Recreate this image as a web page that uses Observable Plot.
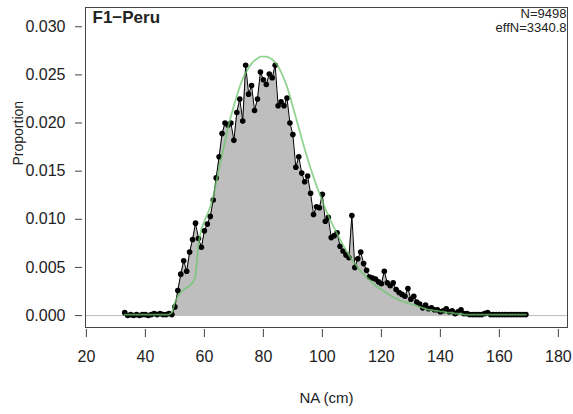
<!DOCTYPE html>
<html>
<head>
<meta charset="utf-8">
<script src="https://cdn.jsdelivr.net/npm/d3@7"></script>
<script src="https://cdn.jsdelivr.net/npm/@observablehq/plot@0.6"></script>
<style>
  html, body { margin: 0; padding: 0; background: #fff; }
  #chart { width: 573px; height: 414px; }
</style>
</head>
<body>
<div id="chart"></div>
<script>
// Length bins (cm)
const lengthCm = [33,34,35,36,37,38,39,40,41,42,43,44,45,46,47,48,49,50,51,52,53,54,55,56,57,58,59,60,61,62,63,64,65,66,67,68,69,70,71,72,73,74,75,76,77,78,79,80,81,82,83,84,85,86,87,88,89,90,91,92,93,94,95,96,97,98,99,100,101,102,103,104,105,106,107,108,109,110,111,112,113,114,115,116,117,118,119,120,121,122,123,124,125,126,127,128,129,130,131,132,133,134,135,136,137,138,139,140,141,142,143,144,145,146,147,148,149,150,151,152,153,154,155,156,157,158,159,160,161,162,163,164,165,166,167,168,169];

// Observed proportions
const observed = [
  .0003,.0000,.0001,.0000,.0001,.0000,.0001,.0001,.0000,.0001,.0002,.0001,.0002,.0001,.0001,.0002,.0001, // 33-49
  .0009,.0026,.0043,.0057,.0046,.0066,.0079,.0096,.0080,.0071, // 50-59
  .0088,.0095,.0103,.0120,.0143,.0165,.0189,.0200,.0198,.0200, // 60-69
  .0182,.0211,.0225,.0202,.0260,.0230,.0239,.0213,.0225,.0253, // 70-79
  .0245,.0240,.0251,.0247,.0260,.0218,.0222,.0218,.0226,.0200, // 80-89
  .0188,.0154,.0165,.0148,.0139,.0145,.0127,.0105,.0113,.0112, // 90-99
  .0126,.0098,.0102,.0081,.0083,.0086,.0072,.0067,.0063,.0060, // 100-109
  .0104,.0050,.0059,.0066,.0054,.0047,.0040,.0039,.0038,.0035, // 110-119
  .0033,.0046,.0034,.0031,.0034,.0027,.0024,.0022,.0020,.0028, // 120-129
  .0017,.0020,.0014,.0012,.0008,.0011,.0007,.0008,.0006,.0006, // 130-139
  .0004,.0005,.0007,.0004,.0005,.0002,.0004,.0006,.0002,.0002, // 140-149
  .0001,.0001,.0001,.0001,.0001,.0002,.0003,.0001,.0001,.0001, // 150-159
  .0001,.0001,.0001,.0001,.0001,.0001,.0001,.0001,.0001,.0001  // 160-169
];

// Expected (model fit) proportions
const expected = [
  .0001,.0001,.0001,.0001,.0001,.0001,.0001,.0001,.0001,.0001,.0001,.0001,.0001,.0001,.0001,.0001,.0003, // 33-49
  .0014,.0020,.0024,.0027,.0029,.0031,.0034,.0040,.0075,.0090, // 50-59
  .0098,.0105,.0113,.0124,.0138,.0153,.0167,.0181,.0195,.0207, // 60-69
  .0218,.0228,.0238,.0246,.0252,.0257,.0262,.0265,.0267,.0269, // 70-79
  .0269,.0269,.0268,.0266,.0263,.0259,.0253,.0246,.0238,.0228, // 80-89
  .0217,.0206,.0195,.0184,.0173,.0163,.0153,.0144,.0135,.0127, // 90-99
  .0119,.0111,.0104,.0097,.0091,.0085,.0079,.0073,.0068,.0063, // 100-109
  .0058,.0054,.0050,.0046,.0043,.0040,.0037,.0034,.0031,.0029, // 110-119
  .0027,.0025,.0023,.0021,.0019,.0018,.0016,.0015,.0014,.0013, // 120-129
  .0012,.0011,.0010,.0009,.0008,.0007,.0006,.0006,.0005,.0005, // 130-139
  .0004,.0004,.0003,.0003,.0003,.0002,.0002,.0002,.0001,.0001, // 140-149
  .0001,.0001,.0001,.0001,.0001,.0001,.0001,.0001,.0001,.0001, // 150-159
  .0001,.0001,.0001,.0001,.0001,.0001,.0001,.0001,.0001,.0001  // 160-169
];

const xTicks = [20,40,60,80,100,120,140,160,180];
const yTicks = [0,0.005,0.010,0.015,0.020,0.025,0.030];
const titleText = "F1\u2212Peru";
const nText = "N=9498";
const effNText = "effN=3340.8";
const xLabel = "NA (cm)";
const yLabel = "Proportion";

const obsData = lengthCm.map((x, i) => ({x, y: observed[i]}));
const expData = lengthCm.map((x, i) => ({x, y: expected[i]}));

const font = "'Liberation Sans', Arial, Helvetica, sans-serif";

const chart = Plot.plot({
  width: 573,
  height: 414,
  marginLeft: 85,
  marginRight: 6,
  marginTop: 7,
  marginBottom: 87,
  style: {fontFamily: font, background: "#fff", color: "#222"},
  x: {domain: [19.7, 183.1]},
  y: {domain: [-0.00124, 0.0320]},
  marks: [
    Plot.ruleY([0], {stroke: "#bdbdbd", strokeWidth: 1}),
    Plot.areaY(obsData, {x: "x", y: "y", fill: "#bebebe"}),
    Plot.line(obsData, {x: "x", y: "y", stroke: "#000", strokeWidth: 1}),
    Plot.dot(obsData, {x: "x", y: "y", r: 2.8, fill: "#000", stroke: "none"}),
    Plot.line(expData, {x: "x", y: "y", stroke: "#6cc46c", strokeWidth: 1.8, strokeOpacity: 0.75}),
    Plot.frame({stroke: "#444", strokeWidth: 1}),
    Plot.axisX({ticks: xTicks, tickSize: 8, tickPadding: 13, dy: 2, fontSize: 16, label: null, stroke: "#444"}),
    Plot.axisY({ticks: yTicks, tickSize: 7, tickPadding: 10, dx: -3, fontSize: 16, label: null, tickFormat: d3.format(".3f"), stroke: "#444"}),
    Plot.text([titleText], {frameAnchor: "top-left", dx: 7, dy: 3, lineAnchor: "top", textAnchor: "start", fontWeight: "bold", fontSize: 17}),
    Plot.text([nText], {frameAnchor: "top-right", dx: -1, dy: 6.5, lineAnchor: "middle", textAnchor: "end", fontSize: 13}),
    Plot.text([effNText], {frameAnchor: "top-right", dx: -1, dy: 20.5, lineAnchor: "middle", textAnchor: "end", fontSize: 13}),
    Plot.text([xLabel], {frameAnchor: "bottom", dy: 71, lineAnchor: "middle", fontSize: 15}),
    Plot.text([yLabel], {frameAnchor: "left", dx: -67, dy: -2, rotate: -90, lineAnchor: "middle", fontSize: 14})
  ]
});
document.getElementById("chart").appendChild(chart);
</script>
</body>
</html>
